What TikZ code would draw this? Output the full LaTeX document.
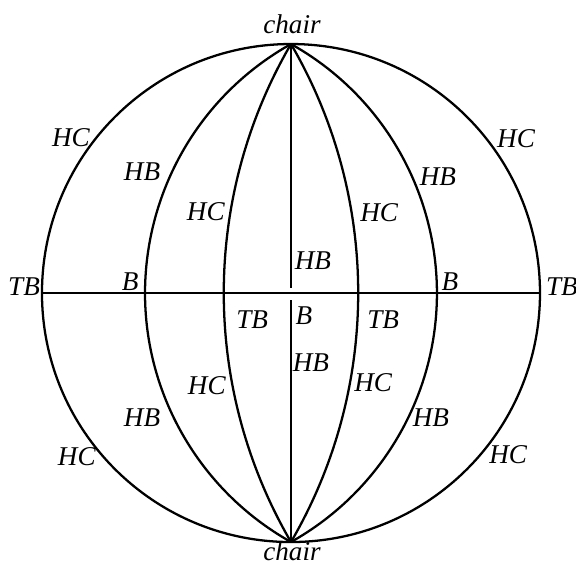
\documentclass[tikz,border=0pt]{standalone}
\usepackage{fontspec}
\setmainfont{Liberation Serif}
\usepackage{tikz}
\usetikzlibrary{calc}

\begin{document}
\begin{tikzpicture}[
      every node/.style={font=\fontsize{15.5}{18}\selectfont\itshape, inner sep=0pt},
      curve/.style={line width=1.3pt, black},
      lab/.style={anchor=center},
    ]
      \useasboundingbox (-5.843,-5.462) rectangle (5.723,5.884);

      \coordinate (top) at (0,5);
      \coordinate (bot) at (0,-5);
      \coordinate (west) at (-5,0);
      \coordinate (east) at (5,0);
      \coordinate (gapup) at (0,0.10);
      \coordinate (gapdown) at (0,-0.14);

      % outer circle and axes
      \draw[curve] (0,0) circle[radius=5];
      \draw[curve] (west) -- (east);
      \draw[curve] (top) -- (gapup);
      \draw[curve] (gapdown) -- (bot);

      % meridian arcs through both chairs
      \foreach \a in {1.35, 2.93} {
        \pgfmathsetmacro{\rad}{(\a*\a+25)/(2*\a)}
        \pgfmathsetmacro{\ang}{atan2(5,\rad-\a)}
        \draw[curve] (top) arc[start angle=\ang, end angle=-\ang, radius=\rad];
        \draw[curve] (top) arc[start angle=180-\ang, end angle=180+\ang, radius=\rad];
      }

      \node[lab] (chairtop) at (0.02,5.40) {chair};
      \node[lab] (chairbot) at (0.02,-5.18) {chair};

      \node[lab] (tbw) at (-5.36,0.12) {TB};
      \node[lab] (tbe) at (5.44,0.12) {TB};
      \node[lab] (bw) at (-3.23,0.22) {B};
      \node[lab] (be) at (3.19,0.22) {B};
      \node[lab] (hbup) at (0.44,0.64) {HB};
      \node[lab] (tbsw) at (-0.78,-0.54) {TB};
      \node[lab] (bmid) at (0.26,-0.46) {B};
      \node[lab] (tbse) at (1.85,-0.54) {TB};
      \node[lab] (hbdown) at (0.40,-1.39) {HB};

      \node[lab] (hcnw) at (-4.42,3.13) {HC};
      \node[lab] (hbnw) at (-2.99,2.43) {HB};
      \node[lab] (hcnwin) at (-1.71,1.63) {HC};
      \node[lab] (hcne) at (4.52,3.11) {HC};
      \node[lab] (hbne) at (2.95,2.33) {HB};
      \node[lab] (hcnein) at (1.77,1.61) {HC};

      \node[lab] (hcswin) at (-1.69,-1.85) {HC};
      \node[lab] (hbsw) at (-2.99,-2.51) {HB};
      \node[lab] (hcsw) at (-4.30,-3.29) {HC};
      \node[lab] (hcsein) at (1.65,-1.79) {HC};
      \node[lab] (hbse) at (2.81,-2.51) {HB};
      \node[lab] (hcse) at (4.36,-3.25) {HC};
    \end{tikzpicture}
\end{document}
